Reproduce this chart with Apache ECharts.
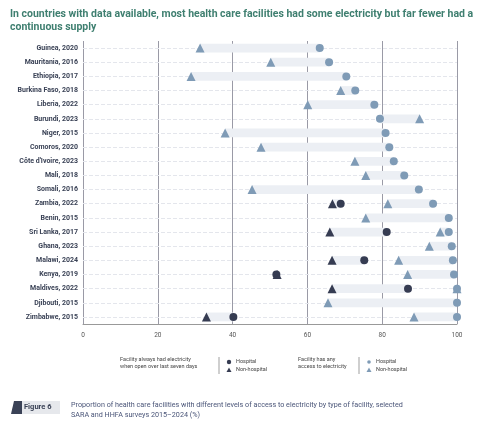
<!DOCTYPE html><html><head><meta charset="utf-8"><script src="https://cdn.jsdelivr.net/npm/echarts@6/dist/echarts.min.js"></script>
<style>html,body{margin:0;padding:0;background:#fff}#c{width:480px;height:428px}</style></head><body><div id="c"></div><script>
const categories=["Guinea, 2020","Mauritania, 2016","Ethiopia, 2017","Burkina Faso, 2018","Liberia, 2022","Burundi, 2023","Niger, 2015","Comoros, 2020","Côte d'Ivoire, 2023","Mali, 2018","Somali, 2016","Zambia, 2022","Benin, 2015","Sri Lanka, 2017","Ghana, 2023","Malawi, 2024","Kenya, 2019","Maldives, 2022","Djibouti, 2015","Zimbabwe, 2015"];
const anyHospital=[63.3,65.8,70.4,72.8,77.9,79.4,80.9,81.9,83.1,85.9,89.8,93.6,97.8,97.8,98.6,98.9,99.2,100,100,100];
const anyNonHospital=[31.3,50.2,28.9,68.9,60.1,90.0,38.0,47.6,72.7,75.6,45.2,81.5,75.6,95.5,92.6,84.4,86.8,100,65.5,88.5];
const alwaysHospital=[null,null,null,null,null,null,null,null,null,null,null,68.9,null,81.2,null,75.2,51.7,86.9,null,40.2];
const alwaysNonHospital=[null,null,null,null,null,null,null,null,null,null,null,66.7,null,66.0,null,66.6,51.9,66.6,null,33.0];
const xTicks=[0,20,40,60,80,100];
const light='#7f9bb6',dark='#363c52',band='#eceff4';
function bands(a,b){const r=[];a.forEach((v,i)=>{if(v!=null&&b[i]!=null)r.push([Math.min(v,b[i]),Math.max(v,b[i]),i]);});return r;}
function rangeSeries(a,b){return{type:'custom',z:1,silent:true,data:bands(a,b),encode:{x:[0,1],y:2},
renderItem:(p,api)=>{const s=api.coord([api.value(0),api.value(2)]),e=api.coord([api.value(1),api.value(2)]);const h=api.size([0,1])[1]*0.62;
return{type:'rect',shape:{x:s[0],y:s[1]-h/2,width:e[0]-s[0],height:h},style:{fill:band}};}};}
const pts=a=>a.map((v,i)=>v==null?null:[v,i]);
const c=echarts.init(document.getElementById('c'));
c.setOption({animation:false,
title:{text:'In countries with data available, most health care facilities had some electricity but far fewer had a\ncontinuous supply',left:5,top:3,textStyle:{fontSize:10.5,fontWeight:'bold',color:'#3f7f70',fontFamily:'Roboto',lineHeight:13}},
grid:{left:83,right:23,top:41,bottom:104,outerBoundsMode:'none',containLabel:false},
xAxis:{type:'value',min:0,max:100,interval:20,axisLine:{show:true,lineStyle:{color:'#999'}},axisTick:{show:false},
axisLabel:{fontSize:6.5,color:'#555',fontFamily:'Roboto',formatter:v=>xTicks.includes(v)?v:''},splitLine:{lineStyle:{color:'#9a9aa6',width:1}}},
yAxis:{type:'category',data:categories,inverse:true,axisLine:{show:false},axisTick:{show:false},
axisLabel:{fontSize:7,fontWeight:'bold',color:'#3a4256',fontFamily:'Roboto',margin:5},
splitLine:{show:false}},
series:[
{type:'scatter',z:0,zlevel:0,data:categories.map((c,i)=>[100,i]),symbolSize:0,silent:true,markLine:{silent:true,z:0,symbol:'none',label:{show:false},
 lineStyle:{color:'#e4e6ec',type:'dashed',width:1},data:categories.map(c=>({yAxis:c}))}},
rangeSeries(anyHospital,anyNonHospital),rangeSeries(alwaysHospital,alwaysNonHospital),
{name:'anyNon',type:'scatter',z:3,symbol:'triangle',symbolSize:9,itemStyle:{color:light,opacity:1},data:pts(anyNonHospital)},
{name:'anyHosp',type:'scatter',z:3,symbol:'circle',symbolSize:8,itemStyle:{color:light,opacity:1},data:pts(anyHospital)},
{name:'alwaysNon',type:'scatter',z:4,symbol:'triangle',symbolSize:9,itemStyle:{color:dark,opacity:1},data:pts(alwaysNonHospital)},
{name:'alwaysHosp',type:'scatter',z:4,symbol:'circle',symbolSize:8,itemStyle:{color:dark,opacity:1},data:pts(alwaysHospital)}
],
graphic:[
{type:'text',left:120,top:356,style:{text:'Facility always had electricity\nwhen open over last seven days',fontSize:5.5,fill:'#444',lineHeight:7,fontFamily:'Roboto'}},
{type:'line',shape:{x1:219,y1:357,x2:219,y2:374},style:{stroke:'#777',lineWidth:0.7}},
{type:'circle',shape:{cx:229,cy:362,r:2.2},style:{fill:dark}},
{type:'polygon',shape:{points:[[229,367.5],[226.5,372],[231.5,372]]},style:{fill:dark}},
{type:'text',left:236,top:358,style:{text:'Hospital\nNon-hospital',fontSize:5.5,fill:'#444',lineHeight:8,fontFamily:'Roboto'}},
{type:'text',left:298,top:356,style:{text:'Facility has any\naccess to electricity',fontSize:5.5,fill:'#444',lineHeight:7,fontFamily:'Roboto'}},
{type:'line',shape:{x1:359,y1:357,x2:359,y2:374},style:{stroke:'#777',lineWidth:0.7}},
{type:'circle',shape:{cx:369,cy:362,r:1.8},style:{fill:light}},
{type:'polygon',shape:{points:[[369,367.5],[366.5,372],[371.5,372]]},style:{fill:light}},
{type:'text',left:376,top:358,style:{text:'Hospital\nNon-hospital',fontSize:5.5,fill:'#444',lineHeight:8,fontFamily:'Roboto'}},
{type:'polygon',shape:{points:[[14,401],[22,401],[22,414],[11,414]]},style:{fill:'#3a4256'}},
{type:'rect',shape:{x:22,y:401,width:38,height:13},style:{fill:'#e6e8ec'}},
{type:'text',left:24,top:403,style:{text:'Figure 6',fontSize:7.5,fontWeight:'bold',fill:'#3a4256',fontFamily:'Roboto'}},
{type:'text',left:71,top:400,style:{text:'Proportion of health care facilities with different levels of access to electricity by type of facility, selected\nSARA and HHFA surveys 2015–2024 (%)',fontSize:7.2,fill:'#4a5578',lineHeight:10,fontFamily:'Roboto'}}
]});
</script></body></html>
